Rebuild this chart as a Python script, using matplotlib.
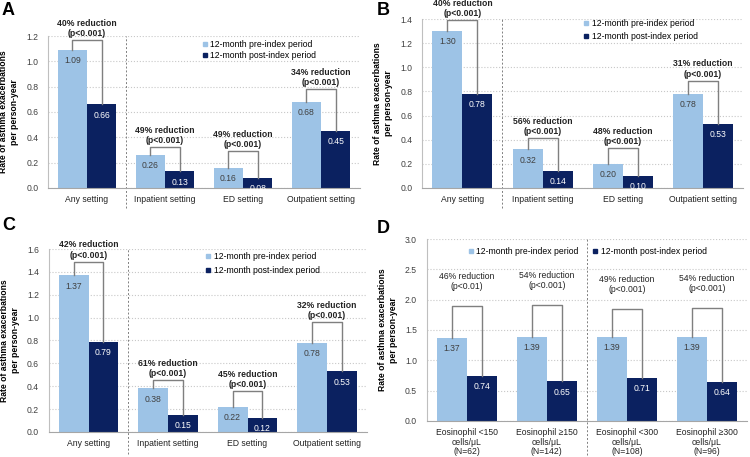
import matplotlib
matplotlib.use("Agg")
import matplotlib.pyplot as plt
from matplotlib.lines import Line2D

plt.rcParams["font.family"] = ["Liberation Sans", "DejaVu Sans"]

# ── data ──────────────────────────────────────────────────────────────────────
SETTINGS = ["Any setting", "Inpatient setting", "ED setting", "Outpatient setting"]
EOS = ["Eosinophil <150\ncells/μL\n(N=62)", "Eosinophil ≥150\ncells/μL\n(N=142)",
       "Eosinophil <300\ncells/μL\n(N=108)", "Eosinophil ≥300\ncells/μL\n(N=96)"]

A_pre = [1.09, 0.26, 0.16, 0.68]
A_post = [0.66, 0.13, 0.08, 0.45]
A_red = ["40%", "49%", "49%", "34%"]
A_p = ["p<0.001", "p<0.001", "p<0.001", "p<0.001"]

B_pre = [1.30, 0.32, 0.20, 0.78]
B_post = [0.78, 0.14, 0.10, 0.53]
B_red = ["40%", "56%", "48%", "31%"]
B_p = ["p<0.001", "p<0.001", "p<0.001", "p<0.001"]

C_pre = [1.37, 0.38, 0.22, 0.78]
C_post = [0.79, 0.15, 0.12, 0.53]
C_red = ["42%", "61%", "45%", "32%"]
C_p = ["p<0.001", "p<0.001", "p<0.001", "p<0.001"]

D_pre = [1.37, 1.39, 1.39, 1.39]
D_post = [0.74, 0.65, 0.71, 0.64]
D_red = ["46%", "54%", "49%", "54%"]
D_p = ["p<0.01", "p<0.001", "p<0.001", "p<0.001"]

# bracket heights
A_brk = [1.17, 0.32, 0.29, 0.78]
B_brk = [1.39, 0.41, 0.33, 0.89]
C_brk = [1.49, 0.45, 0.36, 0.96]
D_brk = [1.89, 1.91, 1.84, 1.86]

LIGHT = "#9DC3E6"
DARK = "#0B2160"
GREY = "#7F7F7F"
W = 0.375
FS = 6.2

fig = plt.figure(figsize=(7.5, 4.57), dpi=100)


def panel(rect, letter, letter_xy, cats, pre, post, red, pv, brk, ymax, step,
          divider, div_low, bold=True, legend="box", leg_anchor=(0.5, 1.0),
          leg_space=0.4, txt_off=1.5):
    ax = fig.add_axes(rect)
    x = list(range(len(cats)))
    xp = [i - W / 2 for i in x]
    xq = [i + W / 2 for i in x]
    ax.bar(xp, pre, W, color=LIGHT, zorder=2)
    ax.bar(xq, post, W, color=DARK, zorder=2)
    for a, v in zip(xp, pre):
        ax.annotate(f"{v:.2f}", (a, v), xytext=(0, -4.5), textcoords="offset points",
                    ha="center", va="top", fontsize=FS, color="#404040", zorder=4)
    for a, v in zip(xq, post):
        ax.annotate(f"{v:.2f}", (a, v), xytext=(0, -4.5), textcoords="offset points",
                    ha="center", va="top", fontsize=FS, color="white", zorder=4)
    for i in x:
        ax.plot([xp[i], xp[i], xq[i], xq[i]], [pre[i], brk[i], brk[i], post[i]],
                color=GREY, lw=1.0, zorder=3, clip_on=False)
        ax.annotate(f"{red[i]} reduction\n({pv[i]})", (i, brk[i]),
                    xytext=(0, txt_off), textcoords="offset points",
                    ha="center", va="bottom", fontsize=FS,
                    fontweight="bold" if bold else "normal", color="#222222",
                    linespacing=1.15, annotation_clip=False)
    ax.set_xlim(-0.5, len(cats) - 0.5)
    ax.set_ylim(0, ymax)
    ticks = [round(k * step, 2) for k in range(int(round(ymax / step)) + 1)]
    ax.set_yticks(ticks)
    ax.set_yticklabels([f"{t:.1f}" for t in ticks], fontsize=FS, color="#404040")
    ax.set_xticks(x)
    ax.set_xticklabels(cats, fontsize=FS, color="#222222", linespacing=1.1)
    ax.tick_params(axis="y", length=0, pad=7)
    ax.tick_params(axis="x", length=0, pad=5)
    ax.yaxis.grid(True, ls=":", color="#C8C8C8", lw=0.8, zorder=0)
    ax.set_axisbelow(True)
    for s in ["top", "right"]:
        ax.spines[s].set_visible(False)
    ax.spines["left"].set_color("#BFBFBF")
    ax.spines["bottom"].set_color("#A6A6A6")
    ax.axvline(divider, ymin=div_low, ymax=1, color="#7F7F7F", ls=(0, (2, 2)),
               lw=0.7, clip_on=False)
    ax.set_ylabel("Rate of asthma exacerbations\nper person-year", fontsize=FS,
                  fontweight="bold", labelpad=5, linespacing=1.3)
    handles = [Line2D([], [], ls="", marker="s", ms=3.5, color=LIGHT),
               Line2D([], [], ls="", marker="s", ms=3.5, color=DARK)]
    labels = ["12-month pre-index period", "12-month post-index period"]
    if legend == "box":
        ax.legend(handles, labels, loc="upper left", bbox_to_anchor=leg_anchor,
                  frameon=False, fontsize=FS, handletextpad=0.25, handlelength=0.8,
                  labelspacing=leg_space, borderaxespad=0)
    else:
        ax.legend(handles, labels, loc="upper center", bbox_to_anchor=leg_anchor,
                  ncol=2, frameon=False, fontsize=FS, handletextpad=0.25,
                  handlelength=0.8, columnspacing=1.5)
    fig.text(letter_xy[0] / 750, 1 - letter_xy[1] / 457, letter, fontsize=13,
             fontweight="bold", va="top", ha="left")
    return ax


panel([0.064, 0.589, 0.416, 0.332], "A", (2, 2), SETTINGS, A_pre, A_post, A_red, A_p,
      A_brk, 1.2, 0.2, 0.5, -0.13, leg_anchor=(0.48, 1.0), leg_space=0.3)
panel([0.563, 0.589, 0.428, 0.369], "B", (377, 2), SETTINGS, B_pre, B_post, B_red, B_p,
      B_brk, 1.4, 0.2, 0.5, -0.12, leg_anchor=(0.49, 1.022), leg_space=0.5)
panel([0.065, 0.055, 0.424, 0.400], "C", (2, 217), SETTINGS, C_pre, C_post, C_red, C_p,
      C_brk, 1.6, 0.2, 0.5, -0.12, leg_anchor=(0.48, 1.004), leg_space=0.55)
panel([0.569, 0.079, 0.427, 0.398], "D", (377, 220), EOS, D_pre, D_post, D_red, D_p,
      D_brk, 3.0, 0.5, 1.5, -0.19, bold=False, legend="row",
      leg_anchor=(0.5, 1.0), txt_off=11)

fig.savefig("out.png", dpi=100)
